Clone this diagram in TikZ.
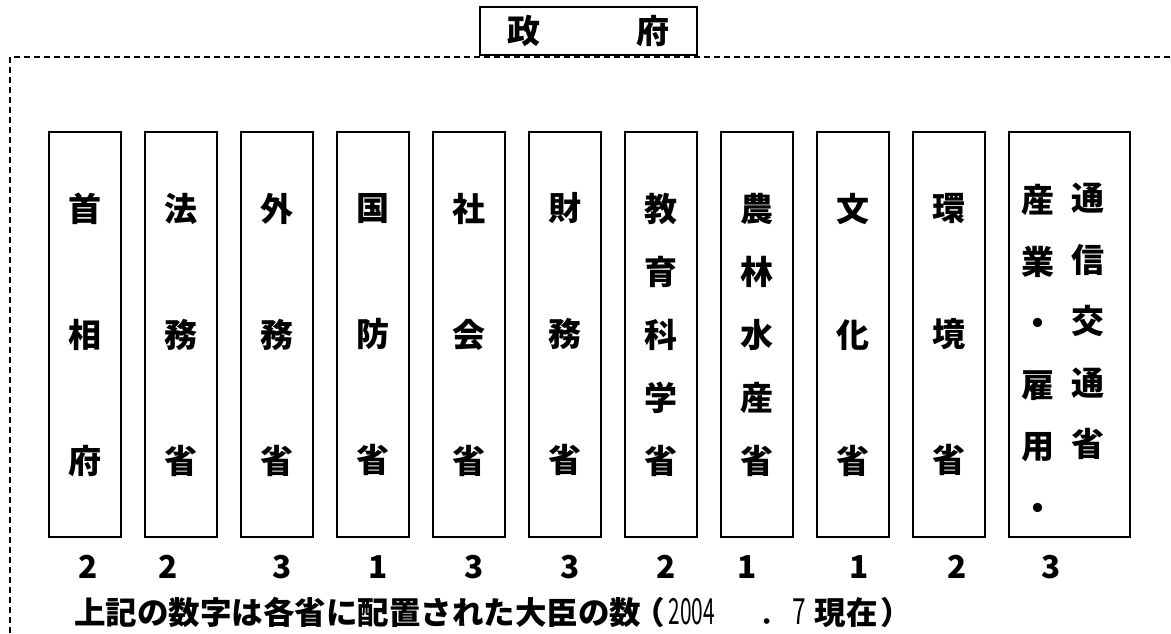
\documentclass[tikz,border=0pt]{standalone}
\usepackage{fontspec}
\usepackage{graphicx}
\newfontfamily\jp{Noto Sans CJK JP}
\begin{document}
\begin{tikzpicture}[x=1pt,y=-1pt,
  frame/.style={line width=2.8pt, dash pattern=on 6pt off 4pt},
  govbox/.style={draw, line width=2pt, minimum width=217pt, minimum height=48pt, inner sep=0pt, font=\jp\bfseries\fontsize{33}{33}\selectfont},
  ministry/.style={draw, line width=2pt, minimum width=72pt, minimum height=405pt, anchor=north west, inner sep=0pt, align=center},
  five/.style={ministry, font=\jp\bfseries\fontsize{33}{63}\selectfont},
  three/.style={ministry, font=\jp\bfseries\fontsize{33}{126}\selectfont},
  col/.style={inner sep=0pt, align=center, font=\jp\bfseries\fontsize{33}{61.5}\selectfont},
  num/.style={inner sep=0pt, font=\jp\bfseries\fontsize{31.5}{31.5}\selectfont},
  caption/.style={inner sep=0pt, anchor=west, font=\jp\bfseries\fontsize{31.5}{31.5}\selectfont}
]
\useasboundingbox (0,0) rectangle (1171,633);
% dashed frame
\coordinate (fc) at (10,633);
\coordinate (fa) at (10,57);
\coordinate (fb) at (1171,57);
\draw[frame] (fc) -- (fa) -- (fb);
% government
\node[govbox] (gov) at (588.5,31) {政\hspace{96pt}府\hspace{22pt}};
% ministries
\node[three] (b1) at (48,131) {首\\相\\府};
\node[three] (b2) at (144,131) {法\\務\\省};
\node[three] (b3) at (240,131) {外\\務\\省};
\node[three] (b4) at (336,131) {国\\防\\省};
\node[three] (b5) at (432,131) {社\\会\\省};
\node[three] (b6) at (528,131) {財\\務\\省};
\node[five] (b7) at (624,131) {教\\育\\科\\学\\省};
\node[five] (b8) at (720,131) {農\\林\\水\\産\\省};
\node[three] (b9) at (816,131) {文\\化\\省};
\node[three] (b10) at (912,131) {環\\境\\省};
\node[ministry, minimum width=121pt] (b11) at (1008,131) {};
\node[col] (c11a) at (1038,352.5) {産\\業\\・\\雇\\用\\・};
\node[col] (c11b) at (1088,321.5) {通\\信\\交\\通\\省};
% numbers
\node[num] (n1) at (88,567) {2};
\node[num] (n2) at (168,567) {2};
\node[num] (n3) at (282,567) {3};
\node[num] (n4) at (378,567) {1};
\node[num] (n5) at (474,567) {3};
\node[num] (n6) at (570,567) {3};
\node[num] (n7) at (666,567) {2};
\node[num] (n8) at (747,567) {1};
\node[num] (n9) at (859,567) {1};
\node[num] (n10) at (957,567) {2};
\node[num] (n11) at (1051,567) {3};
% caption
\node[caption] (cap) at (74,612) {上記の数字は各省に配置された大臣の数\hspace{-8pt}（\hspace{4pt}{\mdseries\fontsize{36}{36}\selectfont\scalebox{0.58}[1]{2004}\hspace{43pt}．\hspace{-2pt}\scalebox{0.68}[1]{7}}\hspace{9pt}現在\hspace{3pt}）};
\end{tikzpicture}
\end{document}
